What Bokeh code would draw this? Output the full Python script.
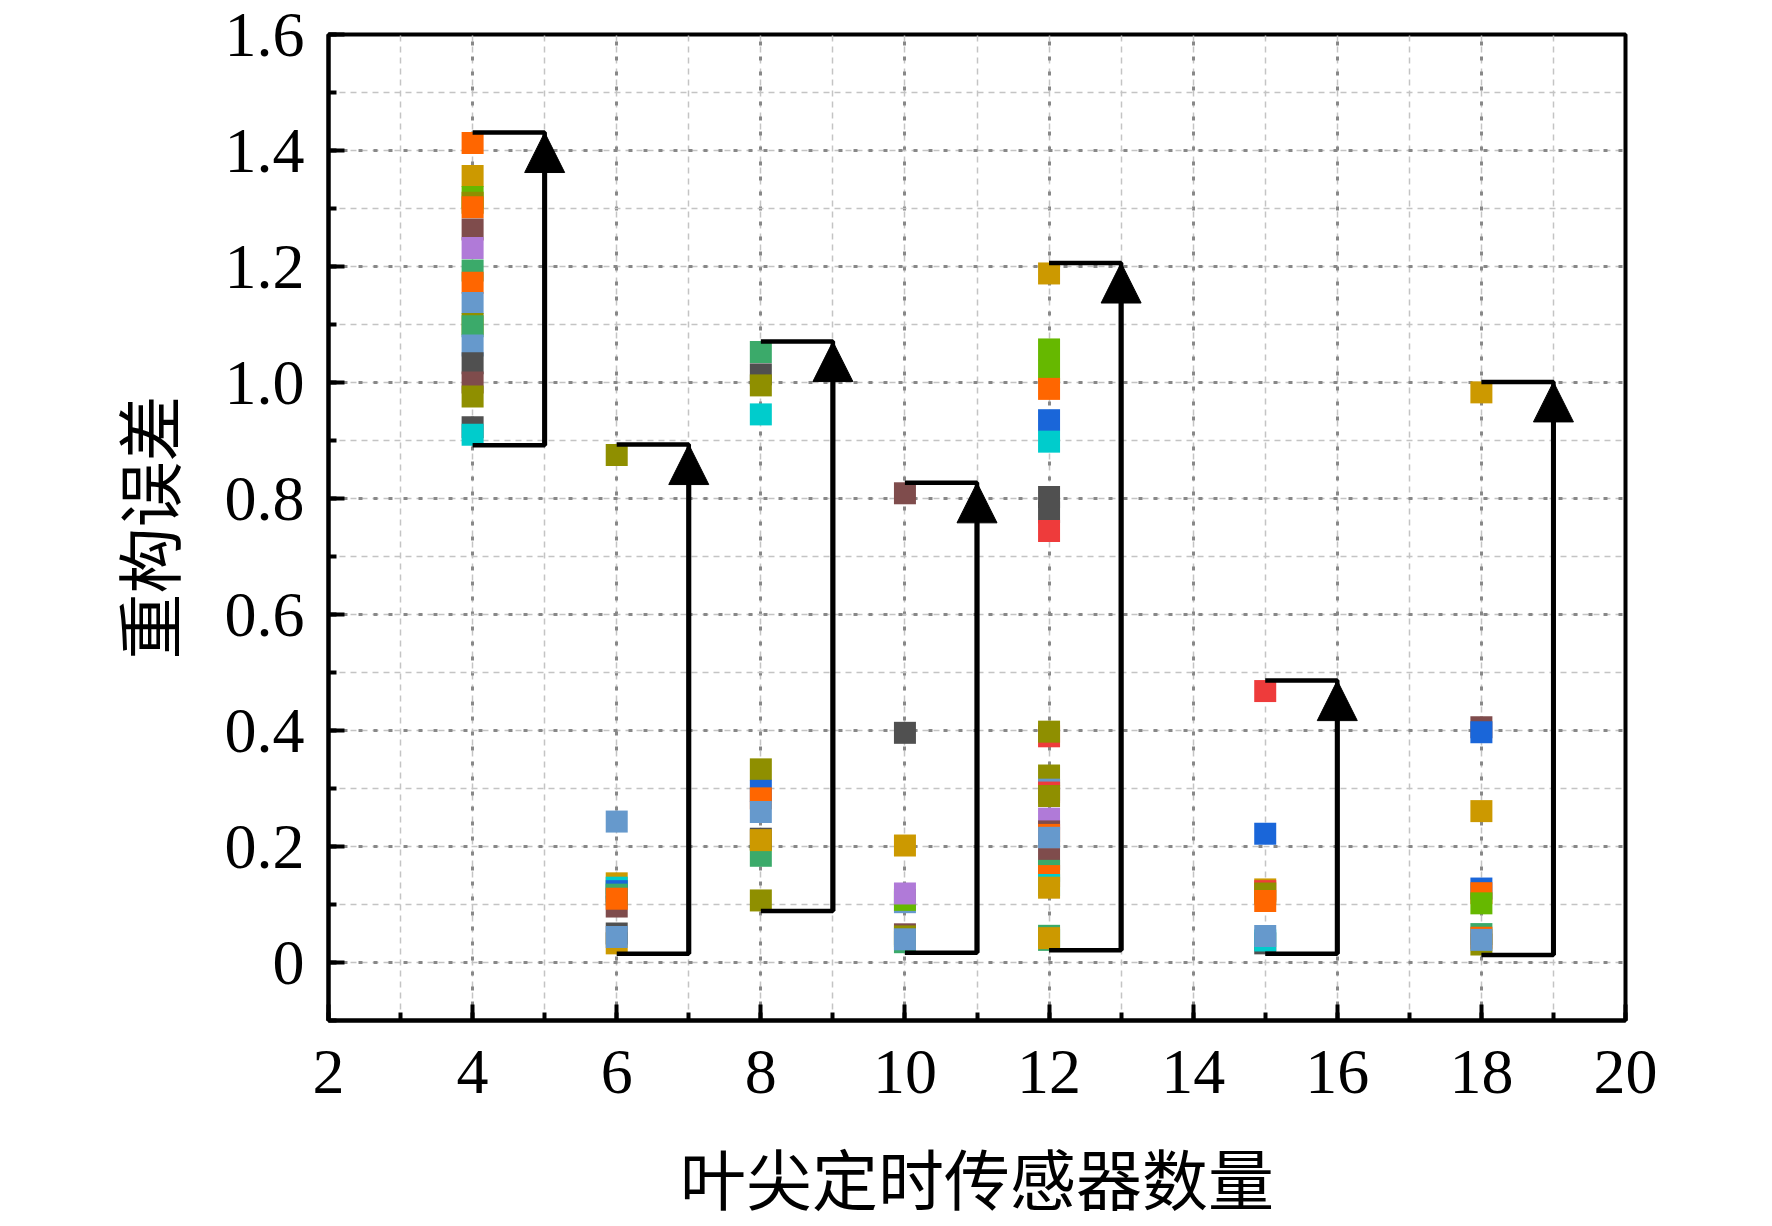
from bokeh.plotting import figure
from bokeh.models import (ColumnDataSource, Range1d, SingleIntervalTicker, CustomJSTickFormatter,
                          Arrow, NormalHead)
from bokeh.embed import file_html
from bokeh.resources import INLINE

# ---------------- data ----------------
palette = {
    "orange": "#FF6600", "gold": "#CC9900", "lime": "#66B800", "brown": "#7F4C4C",
    "purple": "#B07AD8", "green": "#3BAA6A", "steel": "#6699CC", "dark": "#505050",
    "olive": "#8F8F00", "cyan": "#00CCCC", "red": "#EE3B3B", "blue": "#1A66D9",
}

sensors = [4, 6, 8, 10, 12, 15, 18]

err_4 = [1.413, 1.356, 1.320, 1.310, 1.302, 1.264, 1.232, 1.193, 1.172, 1.137, 1.101, 1.097,
         1.064, 1.033, 1.000, 0.976, 0.923, 0.910]
col_4 = ["orange", "gold", "lime", "olive", "orange", "brown", "purple", "green", "orange", "steel",
         "olive", "green", "steel", "dark", "brown", "olive", "dark", "cyan"]

err_6 = [0.875, 0.243, 0.0965, 0.1365, 0.129, 0.123, 0.117, 0.110, 0.033, 0.050, 0.044]
col_6 = ["olive", "steel", "brown", "gold", "cyan", "blue", "green", "orange", "gold", "dark", "steel"]

err_8 = [1.0526, 1.014, 0.995, 0.945, 0.333, 0.296, 0.283, 0.2595, 0.184, 0.2134, 0.211, 0.107]
col_8 = ["green", "dark", "olive", "cyan", "olive", "blue", "orange", "steel", "green", "dark",
         "gold", "olive"]

err_10 = [0.809, 0.396, 0.2017, 0.104, 0.108, 0.119, 0.035, 0.0486, 0.045, 0.040]
col_10 = ["brown", "dark", "gold", "steel", "lime", "purple", "green", "brown", "olive", "steel"]

err_12 = [1.188, 1.057, 1.020, 0.989, 0.935, 0.898, 0.8026, 0.776, 0.744, 0.390, 0.398, 0.3224,
          0.298, 0.293, 0.287, 0.248, 0.226, 0.220, 0.215, 0.178, 0.158, 0.149, 0.1336, 0.129,
          0.046, 0.039, 0.042]
col_12 = ["gold", "lime", "lime", "orange", "blue", "cyan", "dark", "dark", "red", "red", "olive",
          "olive", "steel", "red", "olive", "purple", "brown", "orange", "steel", "brown", "green",
          "orange", "cyan", "gold", "green", "green", "gold"]

err_15 = [0.468, 0.222, 0.126, 0.123, 0.119, 0.106, 0.033, 0.038, 0.0457]
col_15 = ["red", "blue", "gold", "red", "olive", "orange", "dark", "cyan", "steel"]

err_18 = [0.983, 0.4056, 0.397, 0.261, 0.1275, 0.1195, 0.102, 0.031, 0.049, 0.0427, 0.039]
col_18 = ["gold", "brown", "blue", "gold", "blue", "orange", "lime", "olive", "green", "orange", "steel"]

errors = [err_4, err_6, err_8, err_10, err_12, err_15, err_18]
colors = [col_4, col_6, col_8, col_10, col_12, col_15, col_18]

x_label = "叶尖定时传感器数量"
y_label = "重构误差"

# ---------------- figure ----------------
SERIF = "Liberation Serif"
CJK = "Noto Sans CJK SC"

p = figure(width=1756, height=1226, output_backend="svg", toolbar_location=None,
           x_range=Range1d(2, 20), y_range=Range1d(-0.1, 1.6),
           min_border_left=328, min_border_top=34, min_border_right=131, min_border_bottom=180)
p.background_fill_color = "white"
p.border_fill_color = "white"
p.outline_line_color = "black"
p.outline_line_width = 4

xt = SingleIntervalTicker(interval=2, num_minor_ticks=2)
yt = SingleIntervalTicker(interval=0.2, num_minor_ticks=2)
p.xaxis.ticker = xt
p.yaxis.ticker = yt
p.xgrid.ticker = xt
p.ygrid.ticker = yt

p.xaxis.formatter = CustomJSTickFormatter(code="return tick.toFixed(0);")
p.yaxis.formatter = CustomJSTickFormatter(
    code="var s = tick.toFixed(1); return (s === '0.0' || s === '-0.0') ? '0' : s;")

for ax in (p.xaxis[0], p.yaxis[0]):
    ax.axis_line_width = 4
    ax.axis_line_color = "black"
    ax.major_tick_in = 16
    ax.major_tick_out = 0
    ax.minor_tick_in = 8
    ax.minor_tick_out = 0
    ax.major_tick_line_width = 4
    ax.minor_tick_line_width = 4
    ax.major_tick_line_color = "black"
    ax.minor_tick_line_color = "black"
    ax.major_label_text_font = SERIF
    ax.major_label_text_font_size = "64px"
    ax.major_label_text_color = "black"
    ax.axis_label_text_font = CJK
    ax.axis_label_text_font_size = "66px"
    ax.axis_label_text_font_style = "normal"
    ax.axis_label_text_color = "black"

p.xaxis.axis_label = x_label
p.yaxis.axis_label = y_label
p.xaxis.major_label_standoff = 30
p.yaxis.major_label_standoff = 24
p.xaxis.axis_label_standoff = 32
p.yaxis.axis_label_standoff = 28

for g in (p.xgrid[0], p.ygrid[0]):
    g.grid_line_color = "#888888"
    g.grid_line_width = 3
    g.grid_line_dash = "4 11"
    g.minor_grid_line_color = "#C4C4C4"
    g.minor_grid_line_width = 1.5
    g.minor_grid_line_dash = "6 5"

# ---------------- points ----------------
xs, ys, cs = [], [], []
for s, vals, cl in zip(sensors, errors, colors):
    for v, c in zip(vals, cl):
        xs.append(s)
        ys.append(v)
        cs.append(palette[c])
src = ColumnDataSource(dict(x=xs, y=ys, c=cs))
p.scatter("x", "y", source=src, marker="square", size=22, fill_color="c", line_color=None)

# ---------------- range brackets with arrows ----------------
HALF = 0.018  # half of a marker in data units
bx, by = [], []
for s, vals in zip(sensors, errors):
    hi = max(vals) + HALF
    lo = min(vals) - HALF
    bx.append([s, s + 1, s + 1, s])
    by.append([hi, hi, lo, lo])
    p.add_layout(Arrow(end=NormalHead(size=40, fill_color="black", line_color="black", line_width=1),
                       x_start=s + 1, y_start=lo, x_end=s + 1, y_end=hi,
                       line_color="black", line_width=5))
p.multi_line(bx, by, line_color="black", line_width=4.5)

open("out.html", "w").write(file_html(p, INLINE))
